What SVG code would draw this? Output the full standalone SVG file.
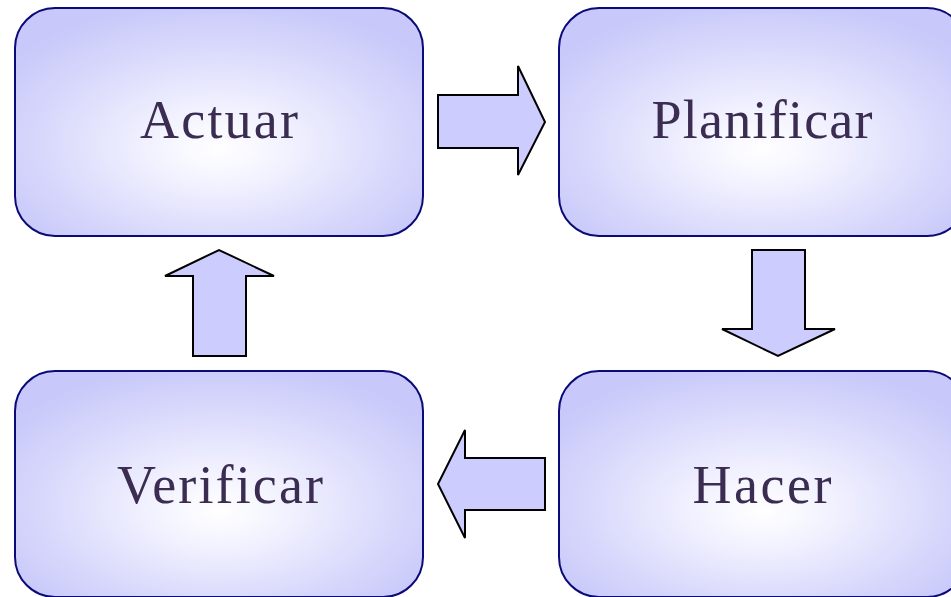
<svg xmlns="http://www.w3.org/2000/svg" width="951" height="597" viewBox="0 0 951 597">
  <defs>
    <radialGradient id="boxFill" cx="50%" cy="58%" r="62%" fx="50%" fy="62%">
      <stop offset="0" stop-color="#ffffff"/>
      <stop offset="0.25" stop-color="#f3f3ff"/>
      <stop offset="0.7" stop-color="#d8d8fc"/>
      <stop offset="1" stop-color="#c8c8fa"/>
    </radialGradient>
  </defs>
  <style>
    .box { fill: url(#boxFill); stroke: #0a0a78; stroke-width: 2; }
    .label { font-family: "Liberation Serif", "Times New Roman", serif; font-size: 54px; fill: #3b2c52; text-anchor: middle; }
    .arrow { fill: #ccccff; stroke: #000000; stroke-width: 2; stroke-linejoin: miter; }
  </style>
  <rect width="951" height="597" fill="#ffffff"/>

  <g id="actuar">
    <rect class="box" x="15" y="8" width="408" height="228" rx="40" ry="40"/>
    <text class="label" x="219" y="138" textLength="158" lengthAdjust="spacing">Actuar</text>
  </g>
  <g id="planificar">
    <rect class="box" x="559" y="8" width="408" height="228" rx="40" ry="40"/>
    <text class="label" x="762" y="138" textLength="221" lengthAdjust="spacing">Planificar</text>
  </g>
  <g id="hacer">
    <rect class="box" x="559" y="371" width="408" height="226" rx="40" ry="40"/>
    <text class="label" x="762" y="503" textLength="139" lengthAdjust="spacing">Hacer</text>
  </g>
  <g id="verificar">
    <rect class="box" x="15" y="371" width="408" height="226" rx="40" ry="40"/>
    <text class="label" x="220" y="503" textLength="206" lengthAdjust="spacing">Verificar</text>
  </g>

  <g id="connectors">
    <!-- Actuar -> Planificar -->
    <polygon class="arrow" points="438,95 518,95 518,66 545,122 518,175 518,148 438,148"/>
    <!-- Planificar -> Hacer -->
    <polygon class="arrow" points="752,250 805,250 805,329 835,329 778,356 722,329 752,329"/>
    <!-- Hacer -> Verificar -->
    <polygon class="arrow" points="545,458 465,458 465,430 438,484 465,538 465,510 545,510"/>
    <!-- Verificar -> Actuar -->
    <polygon class="arrow" points="193,356 246,356 246,276 274,276 219,250 165,276 193,276"/>
  </g>
</svg>
